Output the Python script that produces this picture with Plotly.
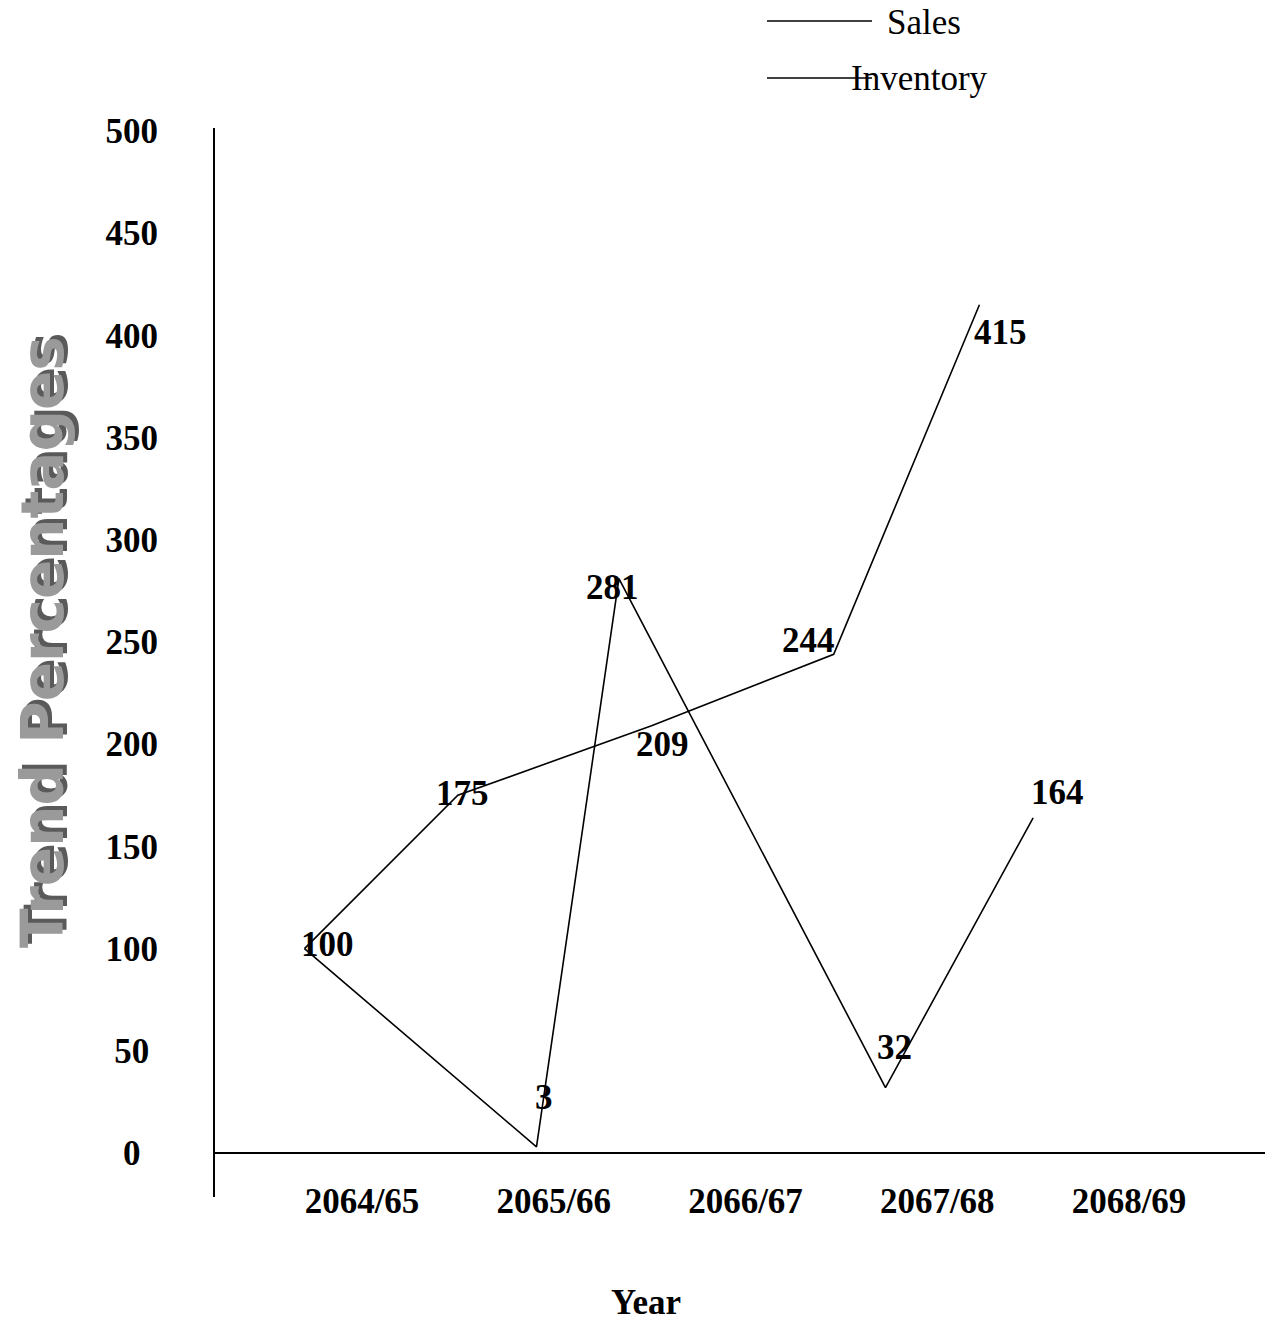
import plotly.graph_objects as go

categories = ["2064/65", "2065/66", "2066/67", "2067/68", "2068/69"]
y_ticks = [0, 50, 100, 150, 200, 250, 300, 350, 400, 450, 500]

# Series as drawn (x positions in category units)
sales_x = [-0.30, 0.50, 1.51, 2.46, 3.22]
sales_y = [100, 175, 209, 244, 415]
inventory_x = [-0.30, 0.91, 1.34, 2.73, 3.50]
inventory_y = [100, 3, 281, 32, 164]

# label offsets (pixels, dx right / dy down) relative to each point
sales_lab_off = [(23, -4), (5, -2), (11, 19), (-25, -14), (21, 28)]
inv_lab_off = [(23, -4), (8, -49), (-6, 9), (9, -40), (24, -25)]

W, H = 1267, 1321
L, R, T, B = 214, 2, 128, 144
plot_h = H - T - B
plot_w = W - L - R
px_per_unit = 2.044
zero_px = 1153
ymax = (zero_px - T) / px_per_unit
ymin = (zero_px - (H - B)) / px_per_unit
cat0_px, cat_step = 362, 191.75
xmin = (L - cat0_px) / cat_step
xmax = (W - R - cat0_px) / cat_step

def px_to_paper_x(px):
    return (px - L) / plot_w

def px_to_paper_y(py):
    return (H - B - py) / plot_h

fig = go.Figure()
for name, xs, ys in [("Sales", sales_x, sales_y), ("Inventory", inventory_x, inventory_y)]:
    fig.add_trace(go.Scatter(x=xs, y=ys, mode="lines", name=name,
                             line=dict(color="black", width=1.6), showlegend=False))

ann = []
lab_font = dict(family="Liberation Serif", size=35, color="black", weight="bold")
for xs, ys, offs in [(sales_x, sales_y, sales_lab_off), (inventory_x, inventory_y, inv_lab_off)]:
    for i, (x, y, (dx, dy)) in enumerate(zip(xs, ys, offs)):
        if xs is inventory_x and i == 0:
            continue
        ann.append(dict(x=x, y=y, xref="x", yref="y", text=str(y), showarrow=False,
                        xanchor="center", yanchor="middle", xshift=dx, yshift=-dy,
                        font=lab_font))

# y-axis title with shadow
ann.append(dict(x=px_to_paper_x(43), y=px_to_paper_y(642), xref="paper", yref="paper",
                text="Trend Percentages", textangle=-90, showarrow=False,
                xanchor="center", yanchor="middle",
                font=dict(family="DejaVu Sans", size=58, color="#9a9a9a", weight="bold",
                          shadow="4px 4px 0px #5a5a5a")))
# x-axis title
ann.append(dict(x=px_to_paper_x(646), y=px_to_paper_y(1302), xref="paper", yref="paper",
                text="Year", showarrow=False, xanchor="center", yanchor="middle",
                font=dict(family="Liberation Serif", size=35, color="black", weight="bold")))

# legend (manual)
leg_font = dict(family="Liberation Serif", size=35, color="black")
shapes = []
for name, ly, tx in [("Sales", 21, 885), ("Inventory", 78, 849)]:
    shapes.append(dict(type="line", xref="paper", yref="paper",
                       x0=px_to_paper_x(767), x1=px_to_paper_x(872),
                       y0=px_to_paper_y(ly), y1=px_to_paper_y(ly),
                       line=dict(color="black", width=1.6)))
    ann.append(dict(x=px_to_paper_x(tx), y=px_to_paper_y(ly + 1), xref="paper", yref="paper",
                    text=name, showarrow=False, xanchor="left", yanchor="middle", font=leg_font))

# vertical axis line extending below the zero line
shapes.append(dict(type="line", xref="paper", yref="paper",
                   x0=0, x1=0, y0=px_to_paper_y(1197), y1=1,
                   line=dict(color="black", width=2)))

ytext = []
for v in y_ticks:
    s = str(v)
    n = 3 - len(s)
    ytext.append(s + ("\u2002" if n == 2 else ("\u2005" if n == 1 else "")))

fig.update_layout(
    width=W, height=H,
    margin=dict(l=L, r=R, t=T, b=B, pad=0),
    paper_bgcolor="white", plot_bgcolor="white",
    annotations=ann, shapes=shapes,
    xaxis=dict(range=[xmin, xmax], tickvals=list(range(len(categories))), ticktext=categories,
               showgrid=False, zeroline=False, showline=False, ticks="",
               tickfont=dict(family="Liberation Serif", size=35, color="black", weight="bold")),
    yaxis=dict(range=[ymin, ymax], tickvals=y_ticks, ticktext=ytext,
               showgrid=False, zeroline=True, zerolinecolor="black", zerolinewidth=2,
               showline=False, ticks="outside", ticklen=48, tickcolor="rgba(0,0,0,0)",
               tickfont=dict(family="Liberation Serif", size=35, color="black", weight="bold")),
)

fig.write_html("out.html")
